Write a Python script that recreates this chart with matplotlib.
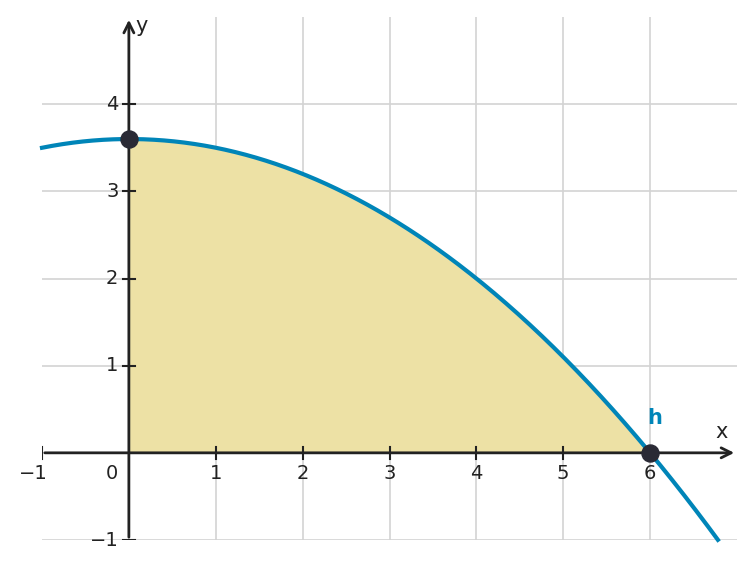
import matplotlib
matplotlib.use("Agg")
import matplotlib.pyplot as plt
import numpy as np

# curve samples
xs = [-1.0, -0.5, 0.0, 0.5, 1.0, 1.5, 2.0, 2.5, 3.0, 3.5, 4.0, 4.5, 5.0, 5.5, 6.0, 6.5, 6.78]
ys = [3.5, 3.575, 3.6, 3.575, 3.5, 3.375, 3.2, 2.975, 2.7, 2.375, 2.0, 1.575, 1.1, 0.575, 0.0, -0.625, -1.0]
xticks = [1, 2, 3, 4, 5, 6]
yticks = [1, 2, 3, 4]
points_x = [0, 6]
points_y = [3.6, 0]

fig = plt.figure(figsize=(7.55, 5.67), dpi=100)
ax = fig.add_axes([42/755, 27/567, 695/755, 523/567])
ax.set_xlim(-1, 7)
ax.set_ylim(-1, 5)
for s in ax.spines.values():
    s.set_visible(False)
ax.set_xticks([]); ax.set_yticks([])

gc = "#d3d3d3"
for x in xticks:
    ax.axvline(x, color=gc, lw=1.2, zorder=0)
for y in yticks + [-1]:
    ax.axhline(y, color=gc, lw=1.2, zorder=0)

# smooth curve via cubic interpolation of read points
from numpy.polynomial import polynomial as P
c = np.polyfit(xs, ys, 2)
xx = np.linspace(xs[0], xs[-1], 400)
yy = np.polyval(c, xx)
ax.plot(xx, yy, color="#0085b8", lw=3, zorder=3, clip_on=False)
xf = np.linspace(0, 6, 300)
ax.fill_between(xf, 0, np.clip(np.polyval(c, xf), 0, None), color="#ede1a5", zorder=1)

ac = "#222222"
ax.annotate("", xy=(7.0, 0), xytext=(-1, 0),
            arrowprops=dict(arrowstyle="->", color=ac, lw=2, mutation_scale=18), zorder=4)
ax.annotate("", xy=(0, 5.0), xytext=(0, -1),
            arrowprops=dict(arrowstyle="->", color=ac, lw=2, mutation_scale=18), zorder=4)

for x in xticks + [-1]:
    ax.plot([x, x], [-0.07, 0.07], color=ac, lw=1.5, zorder=4)
    ax.text(x if x != -1 else -1.1, -0.13, "−1" if x == -1 else str(x), ha="center", va="top", fontsize=14, color=ac)
ax.text(-0.19, -0.13, "0", ha="center", va="top", fontsize=14, color=ac)
for y in yticks + [-1]:
    ax.plot([-0.07, 0.07], [y, y], color=ac, lw=1.5, zorder=4)
    ax.text(-0.12, y, "−1" if y == -1 else str(y), ha="right", va="center", fontsize=14, color=ac)

ax.text(6.82, 0.12, "x", fontsize=15, color=ac, ha="center", va="bottom")
ax.text(0.08, 4.9, "y", fontsize=15, color=ac, ha="left", va="center")
ax.text(6.05, 0.28, "h", fontsize=15, color="#0085b8", fontweight="bold", ha="center", va="bottom")

ax.scatter(points_x, points_y, s=150, color="#2a2a35", zorder=5, clip_on=False)

fig.savefig("out.png", dpi=100)
